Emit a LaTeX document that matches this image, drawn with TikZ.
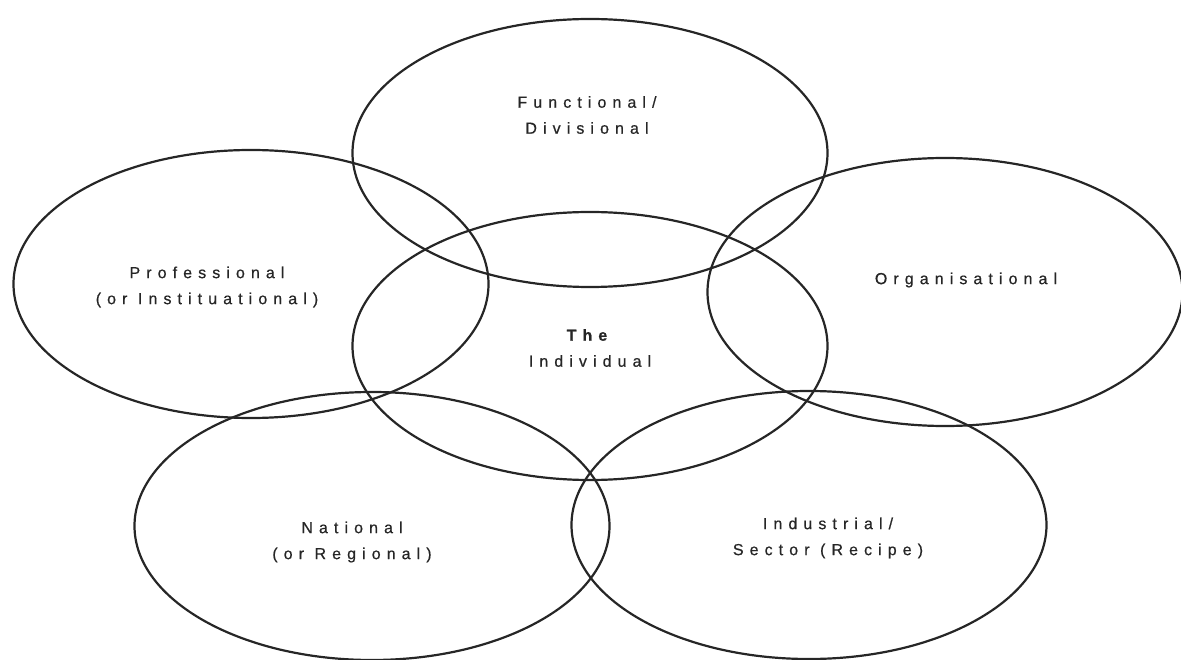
\documentclass[tikz,border=0pt]{standalone}
\usepackage{fontspec}
\newfontfamily\labfont[LetterSpace=38,FakeBold=0.6]{Liberation Sans}
\usetikzlibrary{shapes.geometric}
\tikzset{
  ring/.style={ellipse, draw=black!85, line width=2.2pt, inner sep=0pt, outer sep=0pt,
    minimum width=475pt, minimum height=268pt},
  lab/.style={align=center, font=\labfont\fontsize{16}{26}\selectfont, text=black!85, inner sep=0pt}
}
\begin{document}
\begin{tikzpicture}[x=1pt,y=-1pt]
\useasboundingbox (0,0) rectangle (1181,660);
\node[ring] (func) at (590,153) {};
\node[ring] (prof) at (251,284) {};
\node[ring] (org)  at (945,292) {};
\node[ring] (ind)  at (590,346) {};
\node[ring] (nat)  at (372,526) {};
\node[ring] (sec)  at (809,525) {};
\node[lab] (funcL) at (587,115) {Functional/\\Divisional};
\node[lab] (profL) at (207,287) {Professional\\(or Instituational)};
\node[lab] (orgL)  at (966,280) {Organisational};
\node[lab] (indL)  at (590,348) {\textbf{The}\\Individual};
\node[lab] (natL)  at (352,542) {National\\(or Regional)};
\node[lab] (secL)  at (828,538) {Industrial/\\Sector (Recipe)};
\end{tikzpicture}
\end{document}
